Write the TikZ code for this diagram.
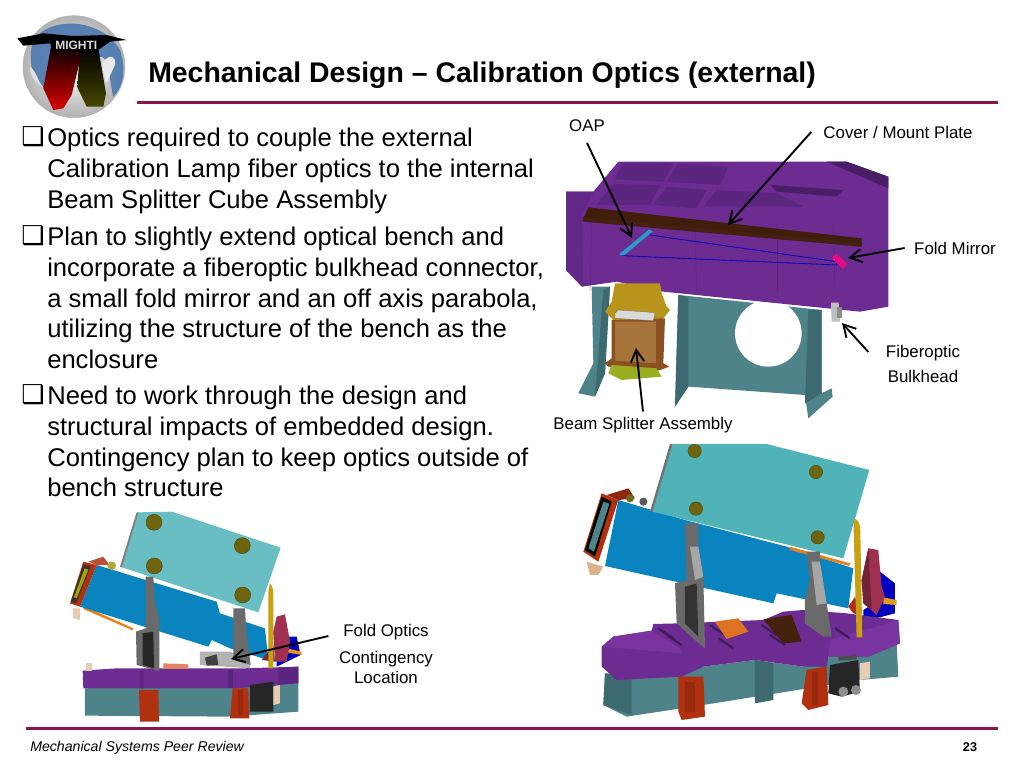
\documentclass[tikz,border=0pt]{standalone}
\usepackage{fontspec}
\usetikzlibrary{arrows.meta}
\setmainfont{Liberation Sans}
\newfontfamily\symfont{DejaVu Sans}
\definecolor{rulered}{HTML}{8A1645}
\definecolor{benchpurple}{HTML}{6C2C92}
\definecolor{benchdark}{HTML}{5C2580}
\definecolor{benchlight}{HTML}{7A34A0}
\definecolor{standteal}{HTML}{4D8389}
\definecolor{standdark}{HTML}{3C6A70}
\definecolor{plateteal}{HTML}{4FB3B8}
\definecolor{bodyblue}{HTML}{0A84BE}
\definecolor{legred}{HTML}{B03010}
\definecolor{lidbrown}{HTML}{562810}
\definecolor{screwolive}{HTML}{6E6410}
\definecolor{rodgold}{HTML}{C9A010}
\definecolor{knobred}{HTML}{A03050}
\definecolor{bracketgray}{HTML}{6A6A6A}
\definecolor{blockgold}{HTML}{B8941A}
\definecolor{blocktan}{HTML}{A6743A}
\definecolor{framebrown}{HTML}{8A5020}
\definecolor{baselime}{HTML}{9AAE20}
\tikzset{
  callout/.style={draw=black, line width=1.4pt, -{Straight Barb[length=9pt,width=10pt,line width=1.4pt]}},
  label/.style={font=\fontsize{12.65}{17}\selectfont, align=center, inner sep=0pt},
  bodytext/.style={font=\fontsize{19.2}{23}\selectfont, align=left, anchor=north west, inner sep=0pt},
  tickbox/.style={font=\symfont\fontsize{19.5}{24}\selectfont, inner sep=0pt},
  screw/.style={fill=screwolive, draw=screwolive!70!black, line width=0.3pt},
  flat/.style={line width=0.2pt}
}
\begin{document}
\begin{tikzpicture}[x=0.75pt, y=-0.75pt]
  \useasboundingbox (0,0) rectangle (1024,768);
  \fill[white] (0,0) rectangle (1024,768);

  % logo
  \begin{scope}[shift={(0,0)}, scale=0.3333]
    \shade[inner color=white, outer color=black!30, draw=black!30] (222,200) circle (153);
    \fill[cyan!50!blue!80!black!90, opacity=0.85] (100,120) .. controls (150,50) and (300,50) .. (360,150) .. controls (380,210) and (370,260) .. (340,290) .. controls (325,230) and (330,170) .. (300,170) .. controls (250,200) and (160,170) .. (130,260) .. controls (90,230) and (85,170) .. (100,120);
    \fill[white!88!black] (90,200) .. controls (110,215) and (115,250) .. (130,260) .. controls (115,255) and (90,235) .. (90,200);
    \fill[white!92!black] (310,185) .. controls (330,160) and (350,170) .. (345,195) .. controls (335,215) and (325,240) .. (318,250) .. controls (315,225) and (305,210) .. (310,185);
    \shade[top color=black, bottom color=olive!55!black] (240,145) -- (295,145) -- (318,280) -- (310,320) -- (260,320) -- (232,262) -- cycle;
    \shade[top color=black, middle color=black, bottom color=red!85!black] (155,130) -- (250,140) -- (215,285) -- (190,325) -- (160,330) -- (130,265) -- cycle;
    \fill[black] (52,115) -- (130,100) -- (220,108) -- (320,105) -- (380,120) -- (330,125) -- (292,152) -- (160,152) -- (150,130) -- (70,137) -- cycle;
    \node (mightilogo) [font=\bfseries\fontsize{9}{10}\selectfont, text=white!85!black, inner sep=0pt] at (229,135) {MIGHTI};
  \end{scope}

  % title and rules
  \node (title) [font=\bfseries\fontsize{21.3}{25}\selectfont, anchor=west, inner sep=0pt] at (148,75) {Mechanical Design – Calibration Optics (external)};
  \fill[rulered] (137,100.5) rectangle (998,104);
  \fill[rulered] (26,726.5) rectangle (998,730);

  % bullets
  \node (boxa) [tickbox] at (33,137) {❑};
  \node (texta) [bodytext] at (47,128) {Optics required to couple the external\\Calibration Lamp fiber optics to the internal\\Beam Splitter Cube Assembly};
  \node (boxb) [tickbox] at (33,236) {❑};
  \node (textb) [bodytext] at (47,227) {Plan to slightly extend optical bench and\\incorporate a fiberoptic bulkhead connector,\\a small fold mirror and an off axis parabola,\\utilizing the structure of the bench as the\\enclosure};
  \node (boxc) [tickbox] at (33,395) {❑};
  \node (textc) [bodytext] at (47,386) {Need to work through the design and\\structural impacts of embedded design.\\Contingency plan to keep optics outside of\\bench structure};

  % upper view
  \begin{scope}[shift={(550,110)}, scale=0.3333]
    \fill[standteal] (125,530) -- (180,530) -- (165,790) -- (135,860) -- (85,850) -- (130,760) -- cycle;
    \fill[standdark] (160,540) -- (180,530) -- (165,790) -- (135,860) -- cycle;
    \fill[standteal] (385,555) -- (815,600) -- (815,850) -- (845,835) -- (848,860) -- (775,925) -- (765,855) -- (415,830) -- (375,890) -- cycle;
    \fill[standdark] (385,555) -- (415,560) -- (415,830) -- (375,890) -- cycle;
    \fill[standdark] (775,600) -- (815,600) -- (815,850) -- (765,880) -- cycle;
    \fill[white] (655,670) circle (100);
    \fill[benchpurple] (48,245) -- (130,245) -- (205,155) -- (890,155) -- (1015,200) -- (1015,590) -- (930,605) -- (340,545) -- (200,515) -- (95,530) -- (48,480) -- cycle;
    \fill[benchdark!80!black] (890,155) -- (1015,200) -- (1015,235) -- (830,155) -- cycle;
    \fill[benchdark] (215,160) -- (370,160) -- (340,215) -- (195,208) -- cycle;
    \fill[benchdark] (385,160) -- (535,170) -- (510,225) -- (350,215) -- cycle;
    \fill[benchdark] (190,222) -- (330,225) -- (300,285) -- (140,285) -- cycle;
    \fill[benchdark] (350,230) -- (470,240) -- (440,295) -- (310,285) -- cycle;
    \fill[benchdark] (500,240) -- (680,250) -- (760,290) -- (460,290) -- cycle;
    \fill[benchdark!80!black] (660,225) -- (880,240) -- (860,260) -- (680,245) -- cycle;
    \fill[benchdark!60!benchpurple] (48,245) -- (130,245) -- (95,320) -- (100,530) -- (48,480) -- cycle;
    \foreach \xa/\xb in {125/120, 435/440, 680/680, 850/855}
      \draw[benchdark, flat] (\xa,345) -- (\xb,545);
    \fill[lidbrown!75!black] (115,292) -- (935,385) -- (935,410) -- (98,330) -- cycle;
    \fill[lidbrown!110!orange] (98,322) -- (935,398) -- (935,410) -- (98,335) -- cycle;
    \fill[cyan!60!teal] (208,432) -- (298,358) -- (308,364) -- (218,440) -- cycle;
    \draw[blue!75!black, line width=0.6pt] (300,375) -- (860,455) -- (860,465) -- (215,437);
    \fill[magenta!85!purple] (845,445) -- (858,430) -- (892,462) -- (880,478) -- cycle;
    \fill[black!25] (843,578) -- (866,578) -- (870,635) -- (845,635) -- cycle;
    \fill[black!45] (860,590) rectangle (875,625);
    \fill[blockgold] (195,520) -- (330,520) -- (335,550) -- (350,590) -- (360,600) -- (320,650) -- (190,630) -- (165,605) -- (185,575) -- cycle;
    \fill[framebrown] (185,630) -- (345,625) -- (340,760) -- (358,770) -- (325,782) -- (175,770) -- (165,760) -- (185,745) -- cycle;
    \fill[blocktan] (195,635) -- (318,635) -- (318,760) -- (195,752) -- cycle;
    \fill[black!15, draw=black!60, flat] (195,610) -- (205,600) -- (315,608) -- (310,632) -- (195,625) -- cycle;
    \fill[baselime] (185,765) -- (320,775) -- (335,800) -- (215,810) -- (175,790) -- cycle;
  \end{scope}

  % labels of upper view
  \node (oaplabel) [label] at (587,126) {OAP};
  \node (coverlabel) [label] at (898,132) {Cover / Mount Plate};
  \node (foldlabel) [label] at (955,248) {Fold Mirror};
  \node (fiberlabel) [label, font=\fontsize{12.65}{18.6}\selectfont] at (923,364) {Fiberoptic\\Bulkhead};
  \node (beamlabel) [label] at (643,425) {Beam Splitter Assembly};
  \coordinate (oaptip) at (632,238);
  \coordinate (covertip) at (728,225);
  \coordinate (foldtip) at (848,258);
  \coordinate (fibertip) at (842,323);
  \coordinate (beamtip) at (636,348);
  \draw[callout] ([yshift=-8pt]oaplabel.south) -- (oaptip);
  \draw[callout] ([xshift=-9pt]coverlabel.west) -- (covertip);
  \draw[callout] ([xshift=-7pt]foldlabel.west) -- (foldtip);
  \draw[callout] ([shift={(-13pt,9pt)}]fiberlabel.west) -- (fibertip);
  \draw[callout] ([yshift=4pt]beamlabel.north) -- (beamtip);

  % right assembly
  \begin{scope}[shift={(570,440)}, scale=0.3333]
    \fill[standteal] (105,700) -- (330,700) -- (400,680) -- (555,660) -- (700,680) -- (780,650) -- (980,610) -- (985,710) -- (870,720) -- (400,795) -- (170,830) -- (100,795) -- cycle;
    \fill[standdark] (105,700) -- (185,715) -- (185,825) -- (100,795) -- cycle;
    \fill[standdark] (555,660) -- (610,670) -- (610,780) -- (555,790) -- cycle;
    \fill[blue!75!black] (930,395) -- (975,430) -- (975,520) -- (880,545) -- (880,510) -- (930,480) -- cycle;
    \fill[benchpurple] (95,620) -- (130,590) -- (245,572) -- (250,552) -- (330,550) -- (580,540) -- (640,515) -- (700,510) -- (830,520) -- (985,540) -- (990,610) -- (895,650) -- (775,650) -- (770,680) -- (700,680) -- (555,660) -- (400,680) -- (335,710) -- (140,720) -- (95,680) -- cycle;
    \fill[benchlight] (95,620) -- (130,590) -- (245,572) -- (330,625) -- (335,640) -- cycle;
    \fill[benchlight] (775,650) -- (895,650) -- (990,610) -- (985,540) -- (780,600) -- cycle;
    \foreach \ax/\ay in {265/565, 290/585, 420/555, 445/595, 575/555, 600/585, 795/565}
      \draw[benchdark!70!black, line width=1.6pt] (\ax,\ay) -- ++(45,30);
    \fill[brown!60!orange!90!red] (435,545) -- (505,535) -- (535,575) -- (470,597) -- cycle;
    \fill[lidbrown!80!black] (580,538) -- (665,525) -- (695,605) -- (640,610) -- cycle;
    \fill[legred] (325,710) -- (400,710) -- (405,830) -- (335,840) -- (325,815) -- cycle;
    \fill[legred] (710,690) -- (770,680) -- (775,795) -- (715,810) -- (695,790) -- cycle;
    \fill[legred!85!black] (345,725) rectangle (375,815);
    \fill[legred!85!black] (725,695) rectangle (745,795);
    \fill[black!85] (780,675) -- (865,660) -- (870,755) -- (815,770) -- (775,760) -- cycle;
    \fill[brown!40] (870,670) -- (900,665) -- (900,715) -- (870,720) -- cycle;
    \fill[black!70] (805,650) -- (860,645) -- (860,658) -- (805,662) -- cycle;
    \fill[black!45] (820,755) circle (15);
    \fill[black!45] (858,750) circle (15);
    \fill[bodyblue] (145,180) -- (345,240) -- (650,320) -- (850,385) -- (835,505) -- (620,460) -- (610,490) -- (105,378) -- cycle;
    \fill[brown!40!orange] (660,320) -- (840,370) -- (838,378) -- (660,330) -- cycle;
    \fill[legred] (95,160) -- (145,180) -- (85,365) -- (40,335) -- cycle;
    \fill[black] (95,170) -- (125,185) -- (75,350) -- (45,330) -- cycle;
    \fill[standteal] (100,185) -- (118,192) -- (72,335) -- (55,325) -- cycle;
    \fill[legred!80!black] (110,165) -- (175,145) -- (195,175) -- (145,180) -- cycle;
    \fill[olive!70!black] (180,175) circle (12);
    \fill[black!65] (220,185) circle (12);
    \fill[brown!60] (50,365) -- (100,380) -- (85,405) -- (60,405) -- cycle;
    \fill[black!55] (300,12) -- (310,12) -- (252,215) -- (240,215) -- cycle;
    \fill[plateteal] (308,12) -- (590,12) -- (898,90) -- (820,355) -- (248,215) -- cycle;
    \fill[screw] (374,33) circle (20);
    \fill[screw] (738,96) circle (20);
    \fill[screw] (378,206) circle (20);
    \fill[screw] (743,292) circle (20);
    \fill[bracketgray] (345,250) -- (385,250) -- (385,320) -- (400,410) -- (405,625) -- (375,600) -- (320,550) -- (315,430) -- (350,420) -- cycle;
    \fill[black!80] (345,440) -- (380,430) -- (385,590) -- (345,550) -- cycle;
    \fill[black!35] (360,320) -- (385,320) -- (400,410) -- (375,420) -- cycle;
    \fill[bracketgray] (710,335) -- (750,335) -- (750,365) -- (770,490) -- (785,590) -- (760,590) -- (705,550) -- (705,480) -- (720,420) -- cycle;
    \fill[black!35] (725,365) -- (750,365) -- (770,490) -- (740,495) -- cycle;
    \fill[legred!80!knobred] (835,500) -- (855,470) -- (870,525) -- (850,520) -- cycle;
    \fill[rodgold] (852,235) .. controls (868,240) and (870,255) .. (871,270) -- (877,592) -- (860,592) -- (851,270) -- cycle;
    \fill[brown!50!orange!80!yellow] (940,472) -- (980,480) -- (980,495) -- (940,492) -- cycle;
    \fill[knobred] (895,325) -- (925,330) -- (935,440) -- (945,470) -- (920,525) -- (880,490) -- (875,420) -- cycle;
    \fill[knobred!70!black] (895,325) -- (875,420) -- (880,490) -- (905,510) -- (900,420) -- cycle;
  \end{scope}

  % left assembly
  \begin{scope}[shift={(60,505)}, scale=0.3333]
    \fill[standteal] (75,550) -- (715,535) -- (715,620) -- (510,635) -- (75,632) -- cycle;
    \fill[blue!75!black] (650,395) -- (710,395) -- (722,450) -- (650,485) -- cycle;
    \fill[benchpurple] (68,497) -- (170,490) -- (400,490) -- (550,490) -- (715,485) -- (715,535) -- (600,545) -- (520,550) -- (240,550) -- (70,550) -- cycle;
    \fill[benchdark] (240,495) -- (250,500) -- (250,550) -- (240,550) -- cycle;
    \fill[benchdark] (505,495) -- (520,495) -- (520,550) -- (505,550) -- cycle;
    \fill[benchdark] (655,488) -- (715,485) -- (715,535) -- (655,538) -- cycle;
    \fill[brown!40] (78,475) rectangle (95,497);
    \fill[brown!60!red!70] (310,475) -- (385,478) -- (385,492) -- (310,492) -- cycle;
    \fill[legred] (237,555) -- (295,555) -- (297,650) -- (240,650) -- cycle;
    \fill[legred] (518,550) -- (565,550) -- (568,640) -- (510,640) -- cycle;
    \fill[legred!85!black] (535,555) rectangle (550,630);
    \fill[black!85] (570,540) -- (640,530) -- (640,620) -- (570,620) -- cycle;
    \fill[brown!40] (640,545) -- (660,540) -- (660,595) -- (640,600) -- cycle;
    \fill[black!30] (420,440) -- (510,440) -- (570,465) -- (570,490) -- (420,480) -- cycle;
    \fill[black!75] (435,458) -- (470,448) -- (475,480) -- (440,482) -- cycle;
    \fill[brown!30!orange] (75,305) -- (220,370) -- (218,376) -- (70,312) -- cycle;
    \fill[bodyblue] (110,180) -- (470,290) -- (480,325) -- (615,370) -- (625,465) -- (510,430) -- (455,405) -- (445,425) -- (60,305) -- cycle;
    \fill[legred] (70,170) -- (110,180) -- (60,305) -- (30,295) -- cycle;
    \fill[black!80] (70,178) -- (92,185) -- (48,295) -- (33,290) -- cycle;
    \fill[olive!70!lime] (74,190) -- (85,194) -- (50,280) -- (42,277) -- cycle;
    \fill[legred!85!white] (85,170) -- (130,155) -- (148,180) -- (110,180) -- cycle;
    \fill[olive!70!white] (155,182) circle (13);
    \fill[brown!40] (38,310) -- (60,310) -- (60,345) -- (40,340) -- cycle;
    \fill[black!50] (230,22) -- (238,22) -- (188,187) -- (180,185) -- cycle;
    \fill[plateteal!85!white] (236,22) -- (335,20) -- (662,128) -- (595,322) -- (186,187) -- cycle;
    \fill[screw] (282,52) circle (24);
    \fill[screw] (547,122) circle (24);
    \fill[screw] (283,183) circle (24);
    \fill[screw] (548,270) circle (24);
    \fill[bracketgray] (257,215) -- (280,215) -- (285,290) -- (298,340) -- (298,498) -- (230,480) -- (228,380) -- (258,370) -- cycle;
    \fill[black!85] (248,385) -- (280,380) -- (282,490) -- (248,480) -- cycle;
    \fill[bracketgray] (520,310) -- (555,310) -- (558,365) -- (572,480) -- (520,465) -- cycle;
    \fill[knobred!80!black] (605,465) -- (640,420) -- (645,470) -- cycle;
    \fill[rodgold] (630,235) .. controls (638,245) and (640,255) .. (640,270) -- (640,490) -- (625,490) -- (625,260) -- cycle;
    \fill[brown!50!orange!80!yellow] (680,430) -- (725,440) -- (725,450) -- (680,442) -- cycle;
    \fill[knobred] (650,335) -- (675,328) -- (690,410) -- (680,470) -- (645,470) -- (640,380) -- cycle;
  \end{scope}

  % remaining labels
  \node (foldoptics) [label] at (386,632) {Fold Optics};
  \node (contingency) [label, font=\fontsize{12.65}{15}\selectfont] at (386,667) {Contingency\\Location};
  \coordinate (fixtip) at (231,659);
  \draw[callout] ([shift={(-11pt,-3pt)}]foldoptics.west) -- (fixtip);

  \node (footer) [font=\itshape\fontsize{10.6}{12}\selectfont, anchor=west, inner sep=0pt] at (30,748) {Mechanical Systems Peer Review};
  \node (pagenum) [font=\bfseries\fontsize{9.5}{11}\selectfont, inner sep=0pt] at (970,747) {23};
\end{tikzpicture}
\end{document}
